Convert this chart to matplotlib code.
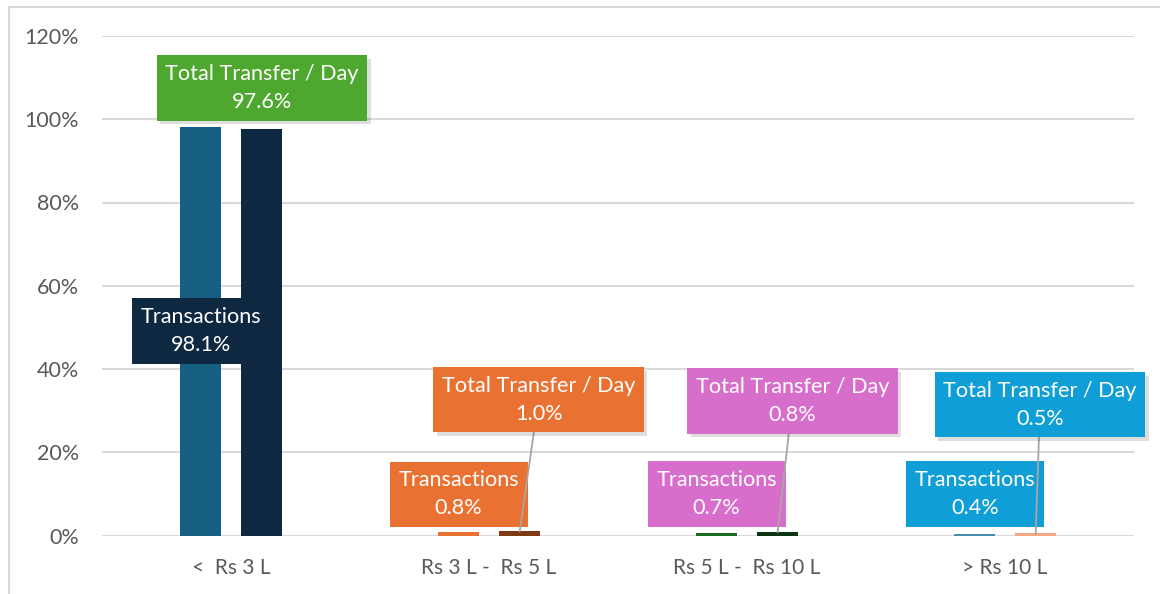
import matplotlib
matplotlib.use('Agg')
import matplotlib.pyplot as plt
import matplotlib.patheffects as pe
from matplotlib.lines import Line2D
import numpy as np

# ---- data ----
categories = ['<  Rs 3 L', 'Rs 3 L -  Rs 5 L', 'Rs 5 L -  Rs 10 L', '> Rs 10 L']
transactions = [98.1, 0.8, 0.7, 0.4]
total_transfer = [97.6, 1.0, 0.8, 0.5]
series_names = ['Transactions', 'Total Transfer / Day']
yticks = [0, 20, 40, 60, 80, 100, 120]
ytick_labels = ['0%', '20%', '40%', '60%', '80%', '100%', '120%']

# ---- styles ----
trans_colors = ['#156082', '#E97132', '#196B24', '#4A8AAE']
transfer_colors = ['#0E2841', '#7F3A14', '#0C3512', '#F1A983']
trans_label_colors = ['#0E2841', '#E97132', '#D86ECC', '#0F9ED5']
transfer_label_colors = ['#4EA72E', '#E97132', '#D86ECC', '#0F9ED5']
# label box centres (offset from category centre, y in data units)
trans_label_dx = [-0.118, -0.118, -0.118, -0.116]
trans_label_y = [49.1, 9.9, 10.0, 10.0]
transfer_label_dx = [0.12, 0.192, 0.176, 0.136]
transfer_label_y = [107.5, 32.6, 32.3, 31.4]
transfer_leader = [False, True, True, True]

FONT = ['Lato', 'DejaVu Sans']
plt.rcParams['font.family'] = FONT

fig = plt.figure(figsize=(11.6, 5.94), dpi=100)
ax = fig.add_axes([102 / 1160, (594 - 535.5) / 594, (1134 - 102) / 1160, (535.5 - 36) / 594])

x = np.arange(len(categories))
bw = 0.159
off = 0.119
ax.bar(x - off, transactions, bw, color=trans_colors, zorder=2)
ax.bar(x + off, total_transfer, bw, color=transfer_colors, zorder=2)

ax.set_xlim(-0.5, len(categories) - 0.5)
ax.set_ylim(0, 120)
ax.set_yticks(yticks)
ax.set_yticklabels(ytick_labels)
ax.set_xticks(x)
ax.set_xticklabels(categories)
ax.tick_params(length=0, colors='#595959', labelsize=15.5)
ax.tick_params(axis='x', labelsize=15)
ax.tick_params(axis='y', pad=16.5)
ax.tick_params(axis='x', pad=16)
ax.grid(axis='y', color='#d9d9d9', lw=1.5, zorder=0)
for s in ax.spines.values():
    s.set_visible(False)

shadow = [pe.SimplePatchShadow(offset=(2.5, -2.5), shadow_rgbFace='#000000', alpha=0.13), pe.Normal()]

FS = 15.6
LS = 1.5
for i in range(len(categories)):
    # transactions label
    ax.annotate(f'{series_names[0]}\n{transactions[i]:.1f}%',
                xy=(x[i] - off, transactions[i]),
                xytext=(x[i] + trans_label_dx[i], trans_label_y[i]), textcoords='data',
                ha='center', va='center', color='white', fontsize=FS, linespacing=LS,
                bbox=dict(boxstyle='square,pad=0.4', fc=trans_label_colors[i], ec='none'),
                zorder=5)
    # total transfer label
    ann = ax.annotate(f'{series_names[1]}\n{total_transfer[i]:.1f}%',
                      xy=(x[i] + off, total_transfer[i]),
                      xytext=(x[i] + transfer_label_dx[i], transfer_label_y[i]), textcoords='data',
                      ha='center', va='center', color='white', fontsize=FS, linespacing=LS,
                      bbox=dict(boxstyle='square,pad=0.4', fc=transfer_label_colors[i], ec='none'),
                      arrowprops=(dict(arrowstyle='-', color='#a6a6a6', lw=1.3, shrinkA=0, shrinkB=0)
                                  if transfer_leader[i] else None),
                      zorder=6)
    ann.get_bbox_patch().set_path_effects(shadow)

# outer frame
fig.add_artist(Line2D([9 / 1160, 1], [1 - 7 / 594, 1 - 7 / 594], color='#d9d9d9', lw=1.5,
                      transform=fig.transFigure))
fig.add_artist(Line2D([9 / 1160, 9 / 1160], [0, 1 - 7 / 594], color='#d9d9d9', lw=1.5,
                      transform=fig.transFigure))

fig.savefig('out.png', dpi=100, facecolor='white')
